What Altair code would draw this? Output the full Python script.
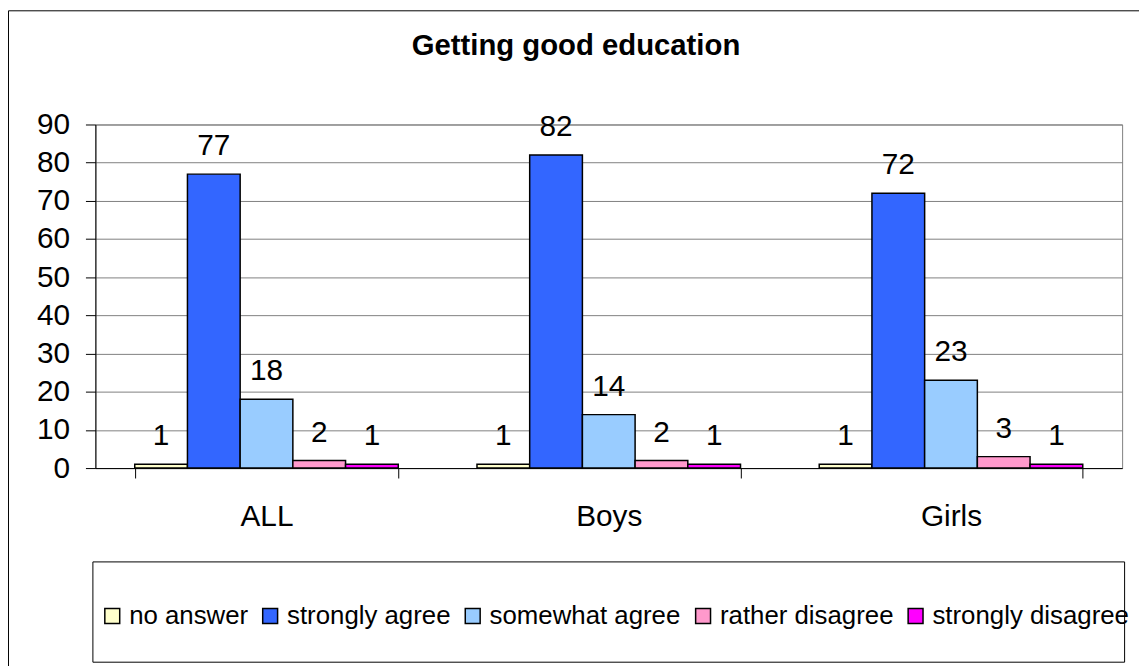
import altair as alt
import pandas as pd

groups = ["ALL", "Boys", "Girls"]
series = ["no answer", "strongly agree", "somewhat agree", "rather disagree", "strongly disagree"]
colors = ["#FFFFCC", "#3366FF", "#99CCFF", "#FF99CC", "#FF00FF"]
values_all = [1, 77, 18, 2, 1]
values_boys = [1, 82, 14, 2, 1]
values_girls = [1, 72, 23, 3, 1]
y_ticks = [0, 10, 20, 30, 40, 50, 60, 70, 80, 90]
title_text = "Getting good education"

rows = []
for g, vals in zip(groups, [values_all, values_boys, values_girls]):
    for s, v in zip(series, vals):
        rows.append({"group": g, "series": s, "value": v})
df = pd.DataFrame(rows)
one = pd.DataFrame({"d": [0]})

FONT = "Liberation Sans"
W, H = 1034, 346

x_axis = alt.Axis(title=None, labelAngle=0, tickBand="extent", tickSize=10,
                  tickColor="black", domainColor="black", labelColor="black",
                  labelFontSize=30, labelPadding=24, grid=False, labelFont=FONT)
y_axis = alt.Axis(title=None, values=y_ticks, tickCount=10, tickSize=10, tickColor="black",
                  domainColor="black", gridColor="#808080", gridWidth=1,
                  labelColor="black", labelFontSize=30, labelPadding=16, labelFont=FONT,
                  labelOverlap=False, labelFlush=False)
x_scale = alt.Scale(paddingInner=0.23, paddingOuter=0.115)
xo_scale = alt.Scale(paddingInner=0, paddingOuter=0)
y_scale = alt.Scale(domain=[0, 90], nice=False)

bars = alt.Chart(df).mark_bar(stroke="black", strokeWidth=1.5).encode(
    x=alt.X("group:N", sort=groups, scale=x_scale, axis=x_axis),
    xOffset=alt.XOffset("series:N", sort=series, scale=xo_scale),
    y=alt.Y("value:Q", scale=y_scale, axis=y_axis),
    color=alt.Color(
        "series:N", sort=series,
        scale=alt.Scale(domain=series, range=colors),
        legend=alt.Legend(title=None, orient="none", direction="horizontal",
                          legendX=4, legendY=482, symbolType="square",
                          symbolSize=225, symbolStrokeColor="black",
                          symbolStrokeWidth=1.5, labelFontSize=26,
                          labelFont=FONT, labelColor="black", labelOffset=4,
                          labelLimit=400, columnPadding=9, padding=0),
    ),
)

labels = alt.Chart(df).mark_text(fontSize=30, baseline="alphabetic", dy=-19,
                                 color="black", font=FONT).encode(
    x=alt.X("group:N", sort=groups, scale=x_scale, axis=x_axis),
    xOffset=alt.XOffset("series:N", sort=series, scale=xo_scale),
    y=alt.Y("value:Q", scale=y_scale, axis=y_axis),
    text=alt.Text("value:Q"),
)

border = alt.Chart(one).mark_rect(fill=None, stroke="black", strokeWidth=1).encode(
    x=alt.value(-87.5), x2=alt.value(2000), y=alt.value(-114.5), y2=alt.value(2000)
)
legend_box = alt.Chart(one).mark_rect(fill=None, stroke="black", strokeWidth=1).encode(
    x=alt.value(-2.5), x2=alt.value(1036.5), y=alt.value(440.5), y2=alt.value(541.5)
)
title = alt.Chart(one).mark_text(text=title_text, fontSize=29.5, fontWeight="bold",
                                 baseline="alphabetic", align="center",
                                 color="black", font=FONT).encode(
    x=alt.value(580 - 96), y=alt.value(53 - 123)
)

chart = alt.layer(border, legend_box, bars, labels, title).properties(
    width=W, height=H,
    autosize=alt.AutoSizeParams(type="none"),
    padding={"left": 88, "top": 115, "right": 17, "bottom": 197},
    background="white",
).configure(font=FONT).configure_view(stroke="#808080", strokeWidth=1)

chart.save("out.html", embed_options={"renderer": "svg", "actions": False})
